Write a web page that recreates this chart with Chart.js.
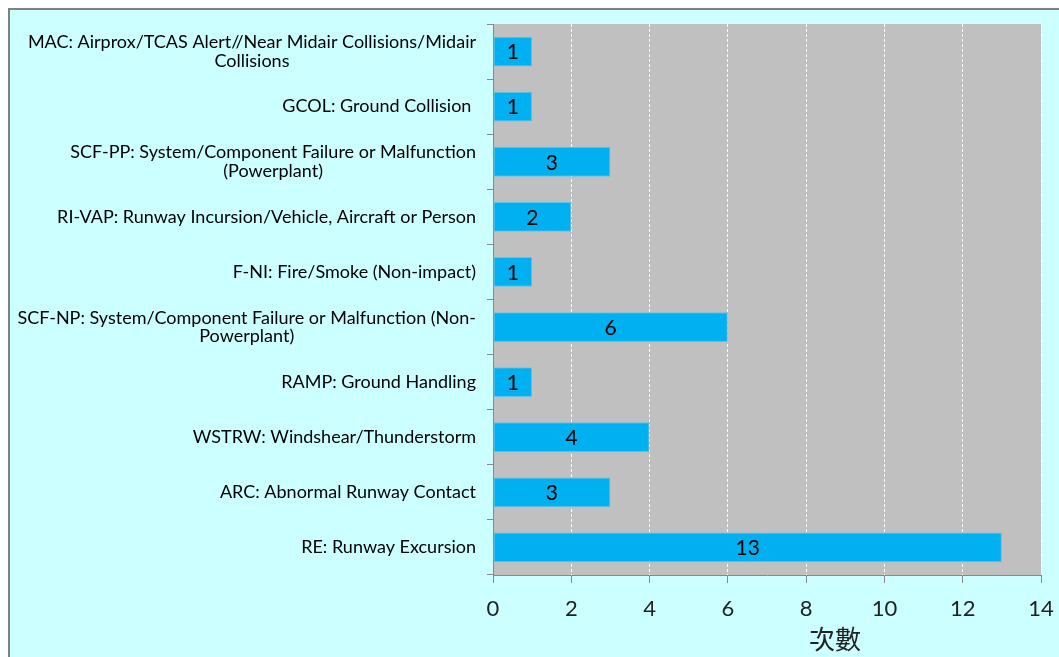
<!DOCTYPE html>
<html>
<head>
<meta charset="utf-8">
<script src="https://cdn.jsdelivr.net/npm/chart.js@4/dist/chart.umd.min.js"></script>
<style>
  body { margin: 0; background: #fff; }
  #frame {
    position: absolute;
    left: 8px;
    top: 8px;
    width: 1049px;
    height: 647px;
    background: #ccffff;
    border-top: 2px solid #808080;
    border-left: 2px solid #808080;
  }
  canvas { display: block; }
</style>
</head>
<body>
<div id="frame"><canvas id="chart" width="1049" height="647"></canvas></div>
<script>
const categories = [
  ["MAC: Airprox/TCAS Alert//Near Midair Collisions/Midair", "Collisions"],
  ["GCOL: Ground Collision "],
  ["SCF-PP: System/Component Failure or Malfunction", "(Powerplant)"],
  ["RI-VAP: Runway Incursion/Vehicle, Aircraft or Person"],
  ["F-NI: Fire/Smoke (Non-impact)"],
  ["SCF-NP: System/Component Failure or Malfunction (Non-", "Powerplant)"],
  ["RAMP: Ground Handling"],
  ["WSTRW: Windshear/Thunderstorm"],
  ["ARC: Abnormal Runway Contact"],
  ["RE: Runway Excursion"],
];
const counts = [1, 1, 3, 2, 1, 6, 1, 4, 3, 13];
const axisTitle = "次數";

const plotBackground = {
  id: "plotBackground",
  beforeDraw(chart) {
    const { ctx, chartArea } = chart;
    ctx.save();
    ctx.fillStyle = "#c0c0c0";
    ctx.fillRect(chartArea.left, chartArea.top, chartArea.width, chartArea.height);
    ctx.restore();
  },
};

// category labels: block right aligned, lines centred inside the block
const categoryLabels = {
  id: "categoryLabels",
  afterDraw(chart) {
    const { ctx } = chart;
    const yScale = chart.scales.y;
    const right = 466;
    const lineHeight = 18.5;
    ctx.save();
    ctx.font = "18px Lato";
    ctx.fillStyle = "#000";
    ctx.textAlign = "center";
    ctx.textBaseline = "middle";
    categories.forEach((lines, i) => {
      const y = yScale.getPixelForValue(i);
      const maxW = Math.max(...lines.map((l) => ctx.measureText(l).width));
      const cx = right - maxW / 2;
      const top = y - ((lines.length - 1) * lineHeight) / 2;
      lines.forEach((l, j) => ctx.fillText(l, cx, top + j * lineHeight));
    });
    ctx.restore();
  },
};

const valueLabels = {
  id: "valueLabels",
  afterDatasetsDraw(chart) {
    const { ctx } = chart;
    const meta = chart.getDatasetMeta(0);
    ctx.save();
    ctx.font = "21px Lato";
    ctx.fillStyle = "#000";
    ctx.textAlign = "center";
    ctx.textBaseline = "middle";
    meta.data.forEach((bar, i) => {
      ctx.fillText(String(counts[i]), (bar.x + bar.base) / 2, bar.y + 1);
    });
    ctx.restore();
  },
};

const xTitle = {
  id: "xTitle",
  afterDraw(chart) {
    const { ctx } = chart;
    ctx.save();
    ctx.font = "26px 'Noto Sans CJK TC'";
    ctx.fillStyle = "#222";
    ctx.textAlign = "center";
    ctx.textBaseline = "middle";
    ctx.fillText(axisTitle, 825, 629);
    ctx.restore();
  },
};

new Chart(document.getElementById("chart"), {
  type: "bar",
  data: {
    labels: categories,
    datasets: [
      {
        data: counts,
        backgroundColor: "#00b0f0",
        borderColor: "#5ec4ea",
        borderWidth: 1,
        borderSkipped: false,
        categoryPercentage: 1,
        barPercentage: 0.54,
      },
    ],
  },
  options: {
    indexAxis: "y",
    responsive: false,
    animation: false,
    layout: { padding: { top: 14, right: 18, left: 0, bottom: 0 } },
    plugins: {
      legend: { display: false },
      tooltip: { enabled: false },
    },
    scales: {
      x: {
        type: "linear",
        min: 0,
        max: 14,
        afterFit: (s) => {
          s.height = 82;
          s.paddingLeft = 0;
          s.paddingRight = 0;
        },
        ticks: {
          stepSize: 2,
          padding: 13,
          color: "#222",
          font: { family: "Lato", size: 22 },
        },
        grid: {
          color: "#ffffff",
          lineWidth: 1,
          drawTicks: true,
          tickLength: 8,
          tickColor: "#888",
        },
        border: { color: "#888", dash: [3, 2] },
      },
      y: {
        type: "category",
        offset: true,
        afterFit: (s) => { s.width = 483; },
        ticks: { display: false },
        grid: {
          offset: true,
          drawOnChartArea: false,
          drawTicks: true,
          tickLength: 6,
          tickColor: "#888",
        },
        border: { color: "#888" },
      },
    },
  },
  plugins: [plotBackground, categoryLabels, valueLabels, xTitle],
});
</script>
</body>
</html>
